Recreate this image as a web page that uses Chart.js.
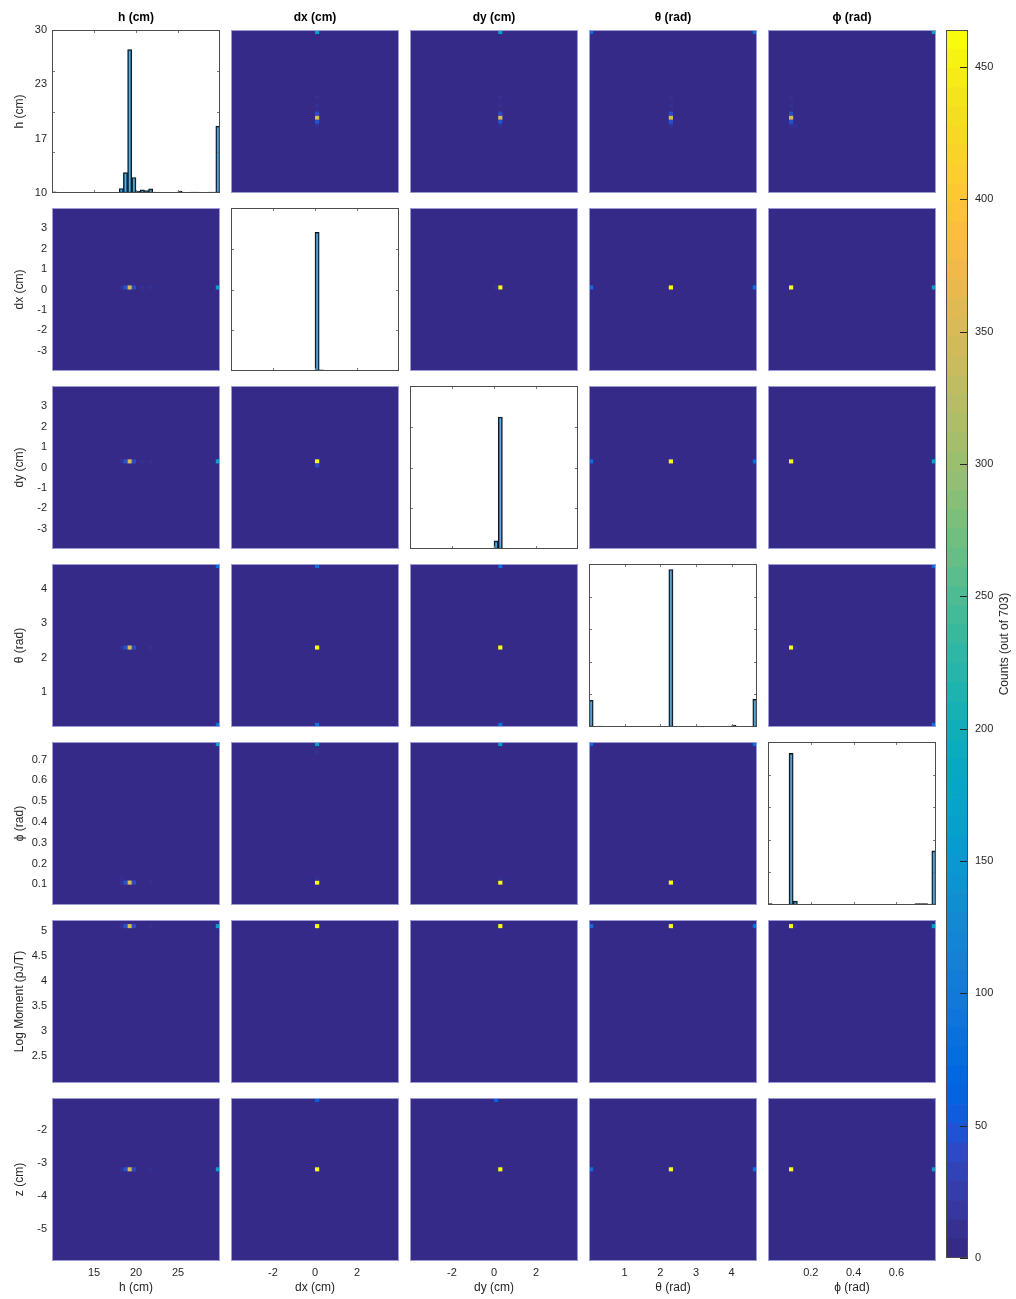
<!DOCTYPE html>
<html>
<head>
<meta charset="utf-8">
<title>Corner plot</title>
<script src="https://cdn.jsdelivr.net/npm/chart.js@4.4.1/dist/chart.umd.min.js"></script>
<style>
  body { margin: 0; background: #fff; }
  #wrap { position: relative; width: 1016px; height: 1299px; }
  #wrap canvas { position: absolute; }
</style>
</head>
<body>
<div id="wrap"></div>
<script>
// variables, in row / column order
var varNames = ['h (cm)', 'dx (cm)', 'dy (cm)', 'θ (rad)', 'ϕ (rad)', 'Log Moment (pJ/T)', 'z (cm)'];
var varMin = [10, -4, -4, 0, 0, 1.97, -5.98];
var varMax = [30, 4, 4, 4.71, 0.785, 5.22, -1.04];
var nBins = 40;

// tick labels
var yTickVals = [[10, 16.667, 23.333, 30], [-3, -2, -1, 0, 1, 2, 3], [-3, -2, -1, 0, 1, 2, 3], [1, 2, 3, 4],
  [0.1, 0.2, 0.3, 0.4, 0.5, 0.6, 0.7], [2.5, 3, 3.5, 4, 4.5, 5], [-5, -4, -3, -2]];
var yTickText = [['10', '17', '23', '30'], ['-3', '-2', '-1', '0', '1', '2', '3'], ['-3', '-2', '-1', '0', '1', '2', '3'], ['1', '2', '3', '4'],
  ['0.1', '0.2', '0.3', '0.4', '0.5', '0.6', '0.7'], ['2.5', '3', '3.5', '4', '4.5', '5'], ['-5', '-4', '-3', '-2']];
var xTickVals = [[15, 20, 25], [-2, 0, 2], [-2, 0, 2], [1, 2, 3, 4], [0.2, 0.4, 0.6]];
var xTickText = [['15', '20', '25'], ['-2', '0', '2'], ['-2', '0', '2'], ['1', '2', '3', '4'], ['0.2', '0.4', '0.6']];

// 1D histograms on the diagonal (40 bins each)
var histH = [3,0,0,0,0,0,0,0,0,0, 0,0,0,0,0,0,11,50,352,38, 5,8,6,10,2,0,0,0,0,0, 5,1,0,2,2,0,0,2,2,164];
var histDx = [0,0,0,0,0,0,0,0,0,0, 0,0,0,0,0,0,0,0,0,0, 681,6,0,0,0,0,0,0,0,0, 0,0,0,0,0,0,0,0,0,0];
var histDy = [3,0,0,0,0,0,0,0,0,0, 0,0,0,0,0,0,0,0,0,0, 40,648,0,0,0,0,0,0,0,0, 0,0,0,0,0,0,0,0,0,0];
var histTheta = [82,0,3,0,0,0,0,0,0,0, 0,0,0,0,0,0,0,0,0,483, 0,0,0,0,0,0,0,0,0,0, 0,0,0,3,6,0,0,0,0,85];
var histPhi = [4,0,0,0,0,465,12,0,0,0, 0,0,0,0,0,0,0,0,0,0, 0,0,0,0,0,0,0,0,0,0, 0,2,0,0,0,4,4,4,3,166];
var histMax = [400, 800, 800, 500, 500];
var histStep = [100, 200, 200, 100, 100];

// 2D histograms: [x bin, y bin, count], named yVsX
var hVsDx = [[20,16,11],[20,17,50],[20,18,352],[20,19,38],[20,21,8],[20,23,8],[20,39,164]];
var hVsDy = [[21,16,11],[21,17,50],[21,18,352],[21,19,38],[21,21,8],[21,23,8],[21,39,164]];
var hVsTheta = [[19,16,11],[19,17,50],[19,18,352],[19,19,38],[19,21,8],[19,23,8],[0,39,80],[39,39,84]];
var hVsPhi = [[5,16,11],[5,17,50],[5,18,352],[5,19,38],[5,21,8],[5,23,8],[6,16,10],[39,39,164]];

var dxVsH = [[16,20,11],[17,20,50],[18,20,352],[19,20,38],[21,20,8],[23,20,8],[39,20,164]];
var dxVsDy = [[21,20,464],[20,20,10]];
var dxVsTheta = [[19,20,464],[0,20,80],[39,20,84]];
var dxVsPhi = [[5,20,464],[39,20,164]];

var dyVsH = [[16,21,11],[17,21,50],[18,21,352],[19,21,38],[21,21,8],[23,21,8],[39,21,164]];
var dyVsDx = [[20,21,464],[20,20,40]];
var dyVsTheta = [[19,21,464],[0,21,80],[39,21,84]];
var dyVsPhi = [[5,21,464],[39,21,164]];

var thetaVsH = [[16,19,11],[17,19,50],[18,19,352],[19,19,38],[23,19,8],[39,39,84],[39,0,80]];
var thetaVsDx = [[20,19,464],[20,39,84],[20,0,80]];
var thetaVsDy = [[21,19,464],[21,39,84],[21,0,80]];
var thetaVsPhi = [[5,19,464],[6,19,12],[39,39,84],[39,0,80]];

var phiVsH = [[16,5,11],[17,5,50],[18,5,352],[19,5,38],[23,5,8],[16,6,10],[39,39,164]];
var phiVsDx = [[20,5,464],[20,6,12],[20,37,8],[20,39,164]];
var phiVsDy = [[21,5,464],[21,6,12],[21,39,164]];
var phiVsTheta = [[19,5,464],[0,39,80],[39,39,84]];

var logmVsH = [[16,38,11],[17,38,50],[18,38,352],[19,38,38],[23,38,8],[39,38,164]];
var logmVsDx = [[20,38,464]];
var logmVsDy = [[21,38,464]];
var logmVsTheta = [[19,38,464],[0,38,80],[39,38,84]];
var logmVsPhi = [[5,38,464],[6,38,12],[39,38,164]];

var zVsH = [[16,22,11],[17,22,50],[18,22,352],[19,22,38],[23,22,8],[39,22,164]];
var zVsDx = [[20,22,464],[20,39,60]];
var zVsDy = [[21,22,464],[20,39,60]];
var zVsTheta = [[19,22,464],[0,22,80],[39,22,84]];
var zVsPhi = [[5,22,464],[39,22,164],[39,39,10]];

// colour bar
var cbMax = 464;
var cbTicks = [0, 50, 100, 150, 200, 250, 300, 350, 400, 450];
var cbTitle = 'Counts (out of 703)';

var parula = ['#352a87','#363093','#3637a0','#353dad','#3243ba','#2c4ac7','#2053d4','#0f5cdd',
  '#0363e1','#0268e1','#046de0','#0871de','#0d75dc','#1079da','#127dd8','#1481d6',
  '#1485d4','#1389d3','#108ed2','#0c93d2','#0998d1','#079ccf','#06a0cd','#06a4ca',
  '#06a7c6','#07a9c2','#0aacbe','#0faeb9','#15b1b4','#1db3af','#25b5a9','#2eb7a4',
  '#38b99e','#42bb98','#4dbc92','#59bd8c','#65be86','#71bf80','#7cbf7b','#87bf77',
  '#92bf73','#9cbf6f','#a5be6b','#aebe67','#b7bd64','#c0bc60','#c8bc5d','#d1bb59',
  '#d9ba56','#e1b952','#e9b94e','#f1b94a','#f8bb44','#fdbe3d','#ffc337','#fec832',
  '#fcce2e','#fad32a','#f7d826','#f5de21','#f5e41d','#f5eb18','#f6f313','#f9fb0e'];

var cellTable = [
  [null, hVsDx, hVsDy, hVsTheta, hVsPhi],
  [dxVsH, null, dxVsDy, dxVsTheta, dxVsPhi],
  [dyVsH, dyVsDx, null, dyVsTheta, dyVsPhi],
  [thetaVsH, thetaVsDx, thetaVsDy, null, thetaVsPhi],
  [phiVsH, phiVsDx, phiVsDy, phiVsTheta, null],
  [logmVsH, logmVsDx, logmVsDy, logmVsTheta, logmVsPhi],
  [zVsH, zVsDx, zVsDy, zVsTheta, zVsPhi]
];
var histTable = [histH, histDx, histDy, histTheta, histPhi];

Chart.defaults.font.family = "'Liberation Sans', Arial, Helvetica, sans-serif";
Chart.defaults.color = '#262626';

var colX = [52, 231, 410, 589, 768];
var rowY = [30, 208, 386, 564, 742, 920, 1098];
var panelW = 168, panelH = 163, M = 14;

function colorFor(v) {
  var k = Math.floor(v / cbMax * parula.length);
  return parula[Math.max(0, Math.min(parula.length - 1, k))];
}

function binW(i) { return (varMax[i] - varMin[i]) / nBins; }

function addCanvas(left, top, w, h) {
  var cv = document.createElement('canvas');
  cv.width = w; cv.height = h;
  cv.style.left = left + 'px'; cv.style.top = top + 'px';
  cv.style.width = w + 'px'; cv.style.height = h + 'px';
  document.getElementById('wrap').appendChild(cv);
  return cv;
}

var panelPlugin = {
  id: 'panel',
  beforeDatasetsDraw: function (chart, args, opts) {
    if (opts.kind !== 'heat') return;
    var a = chart.chartArea, ctx = chart.ctx, xs = chart.scales.x, ys = chart.scales.y;
    ctx.save();
    ctx.fillStyle = parula[0];
    ctx.fillRect(a.left, a.top, a.right - a.left, a.bottom - a.top);
    chart.data.datasets[0].data.forEach(function (p) {
      var x0 = xs.getPixelForValue(p.x0), x1 = xs.getPixelForValue(p.x1);
      var y0 = ys.getPixelForValue(p.y0), y1 = ys.getPixelForValue(p.y1);
      ctx.fillStyle = colorFor(p.v);
      ctx.fillRect(x0, y1, x1 - x0, y0 - y1);
    });
    ctx.restore();
  },
  afterDraw: function (chart, args, opts) {
    var a = chart.chartArea, ctx = chart.ctx;
    ctx.save();
    if (opts.kind === 'hist') {
      // small inward ticks like the matlab box
      ctx.strokeStyle = '#777';
      ctx.lineWidth = 1;
      var xs = chart.scales.x, yc = chart.scales.yc;
      ctx.beginPath();
      xs.ticks.forEach(function (t) {
        var px = Math.round(xs.getPixelForValue(t.value)) + 0.5;
        ctx.moveTo(px, a.bottom); ctx.lineTo(px, a.bottom - 3);
        ctx.moveTo(px, a.top); ctx.lineTo(px, a.top + 3);
      });
      yc.ticks.forEach(function (t) {
        if (t.value <= 0 || t.value >= yc.max) return;
        var py = Math.round(yc.getPixelForValue(t.value)) + 0.5;
        ctx.moveTo(a.left, py); ctx.lineTo(a.left + 3, py);
        ctx.moveTo(a.right, py); ctx.lineTo(a.right - 3, py);
      });
      ctx.stroke();
      ctx.strokeStyle = '#4d4d4d';
    } else {
      ctx.strokeStyle = '#9c9cd4';
    }
    ctx.lineWidth = 1;
    ctx.strokeRect(a.left + 0.5, a.top + 0.5, a.right - a.left - 1, a.bottom - a.top - 1);
    ctx.restore();
  }
};

function makePanel(r, c) {
  var padL = c === 0 ? colX[0] : 0;
  var padT = r === 0 ? rowY[0] : M;
  var padB = r === 6 ? 38 : M;
  var cv = addCanvas(colX[c] - padL, rowY[r] - padT, panelW + padL, panelH + padT + padB);
  var isHist = r === c;

  var scales = {
    x: {
      type: 'linear', min: varMin[c], max: varMax[c], offset: false,
      display: r === 6,
      grid: { display: false, drawTicks: false },
      border: { display: false },
      ticks: { autoSkip: false, maxRotation: 0, padding: 5, font: { size: 11 },
        callback: function (v, i) { return xTickText[c][i]; } },
      afterBuildTicks: function (s) { s.ticks = xTickVals[c].map(function (v) { return { value: v }; }); },
      afterFit: function (s) { if (r === 6) s.height = 38; },
      title: { display: true, text: varNames[c], font: { size: 12 }, padding: { top: 0, bottom: 4 } }
    },
    y: {
      type: 'linear', min: varMin[r], max: varMax[r], position: 'left',
      display: c === 0,
      grid: { display: false, drawTicks: false },
      border: { display: false },
      ticks: { autoSkip: false, padding: 5, font: { size: 11 },
        callback: function (v, i) { return yTickText[r][i]; } },
      afterBuildTicks: function (s) { s.ticks = yTickVals[r].map(function (v) { return { value: v }; }); },
      afterFit: function (s) { if (c === 0) s.width = 52; },
      title: { display: true, text: varNames[r], font: { size: 12 }, padding: { top: 12, bottom: 0 } }
    }
  };

  var datasets;
  if (isHist) {
    scales.yc = { type: 'linear', min: 0, max: histMax[c], display: false, ticks: { stepSize: histStep[c] } };
    datasets = [{
      type: 'bar',
      data: histTable[c].map(function (v, i) { return { x: varMin[c] + (i + 0.5) * binW(c), y: v }; }),
      xAxisID: 'x', yAxisID: 'yc',
      backgroundColor: 'rgba(0,114,189,0.6)',
      borderColor: '#111',
      borderWidth: 1,
      borderSkipped: false,
      barPercentage: 1, categoryPercentage: 1
    }];
  } else {
    datasets = [{
      data: cellTable[r][c].map(function (d) {
        return {
          x: varMin[c] + (d[0] + 0.5) * binW(c), y: varMin[r] + (d[1] + 0.5) * binW(r),
          x0: varMin[c] + d[0] * binW(c), x1: varMin[c] + (d[0] + 1) * binW(c),
          y0: varMin[r] + d[1] * binW(r), y1: varMin[r] + (d[1] + 1) * binW(r),
          v: d[2]
        };
      }),
      pointRadius: 0, borderWidth: 0
    }];
  }

  new Chart(cv, {
    type: isHist ? 'bar' : 'scatter',
    data: { datasets: datasets },
    options: {
      responsive: false, animation: false, events: [],
      layout: { autoPadding: false, padding: { left: 0, right: 0, top: r === 0 ? 0 : M, bottom: r === 6 ? 0 : M } },
      scales: scales,
      plugins: {
        legend: { display: false },
        tooltip: { enabled: false },
        title: {
          display: r === 0, text: varNames[c], fullSize: false,
          font: { size: 12, weight: 'bold' }, color: '#000',
          padding: { top: 10, bottom: 5.6 }
        },
        panel: { kind: isHist ? 'hist' : 'heat' }
      }
    },
    plugins: [panelPlugin]
  });
}

for (var r = 0; r < 7; r++) {
  for (var c = 0; c < 5; c++) makePanel(r, c);
}

// colour bar as a stacked bar of colormap bands
var cbPlugin = {
  id: 'cb',
  afterDraw: function (chart) {
    var a = chart.chartArea, ctx = chart.ctx, ys = chart.scales.y;
    ctx.save();
    ctx.strokeStyle = '#262626';
    ctx.lineWidth = 1;
    ctx.beginPath();
    cbTicks.forEach(function (v) {
      var py = Math.round(ys.getPixelForValue(v)) + 0.5;
      ctx.moveTo(a.right, py); ctx.lineTo(a.right - 8, py);
    });
    ctx.stroke();
    ctx.strokeStyle = '#4d4d4d';
    ctx.strokeRect(a.left + 0.5, a.top + 0.5, a.right - a.left - 1, a.bottom - a.top - 1);
    ctx.translate(59, (a.top + a.bottom) / 2);
    ctx.rotate(-Math.PI / 2);
    ctx.fillStyle = '#262626';
    ctx.font = "12px 'Liberation Sans', Arial, sans-serif";
    ctx.textAlign = 'center';
    ctx.textBaseline = 'middle';
    ctx.fillText(cbTitle, 0, 0);
    ctx.restore();
  }
};

var cbCanvas = addCanvas(946, 0, 70, 1299);
new Chart(cbCanvas, {
  type: 'bar',
  data: {
    labels: [''],
    datasets: parula.map(function (col) {
      return { data: [cbMax / parula.length], backgroundColor: col, borderWidth: 0, stack: 'cb',
        barPercentage: 1, categoryPercentage: 1 };
    })
  },
  options: {
    responsive: false, animation: false, events: [],
    layout: { autoPadding: false, padding: { top: 30, bottom: 41, left: 0, right: 0 } },
    plugins: { legend: { display: false }, tooltip: { enabled: false } },
    scales: {
      x: { display: false, stacked: true },
      y: {
        stacked: true, position: 'right', min: 0, max: cbMax,
        grid: { display: false, drawTicks: false },
        border: { display: false },
        ticks: { autoSkip: false, padding: 7, font: { size: 11 } },
        afterBuildTicks: function (s) { s.ticks = cbTicks.map(function (v) { return { value: v }; }); },
        afterFit: function (s) { s.width = 48; }
      }
    }
  },
  plugins: [cbPlugin]
});
</script>
</body>
</html>
